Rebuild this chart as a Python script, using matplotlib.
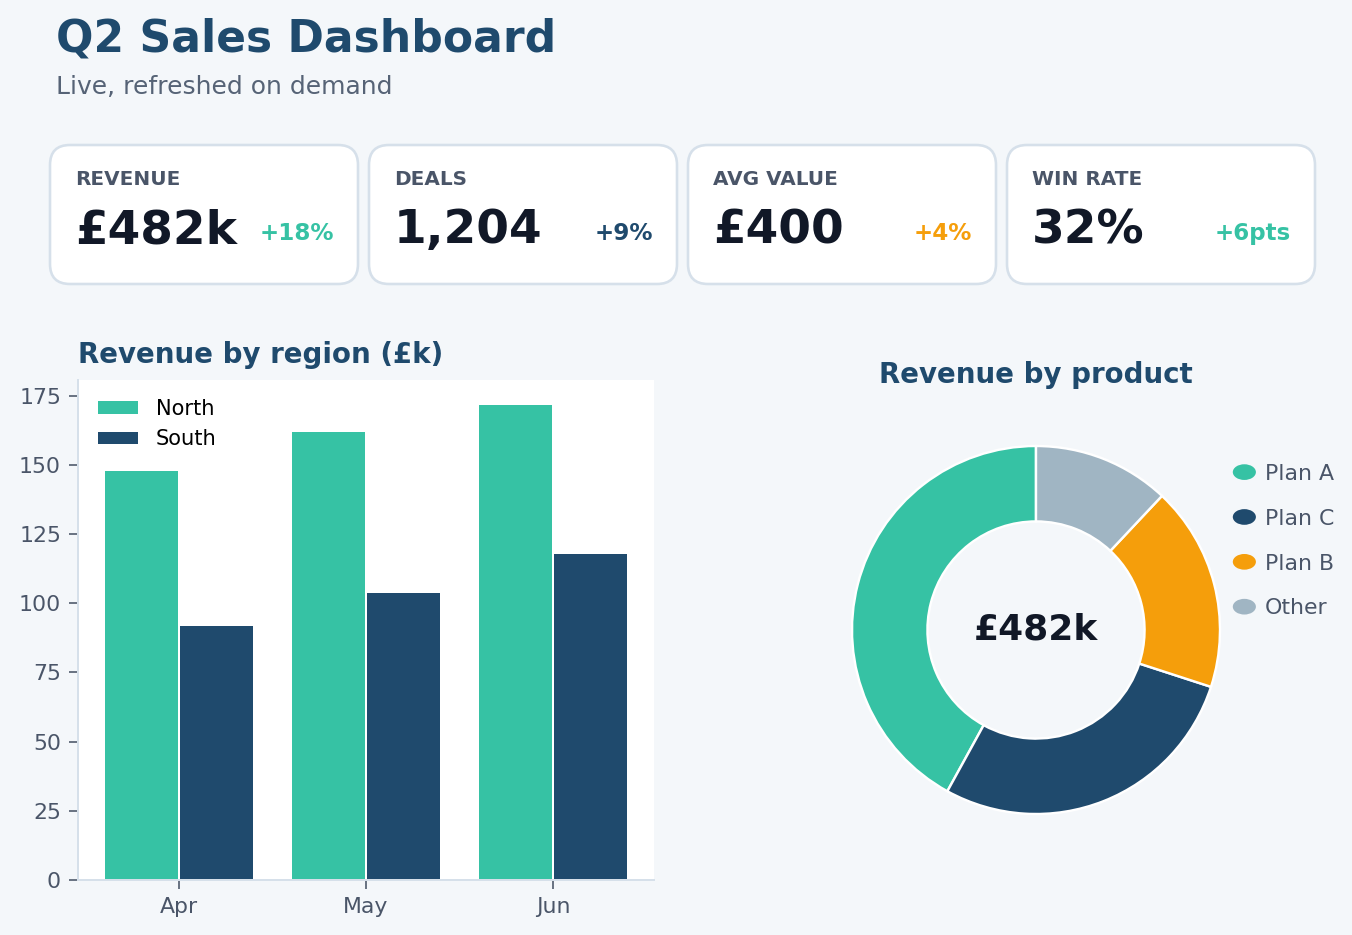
import matplotlib
matplotlib.use("Agg")
import matplotlib.pyplot as plt
import matplotlib.patches as mpatches
from matplotlib.patches import FancyBboxPatch, Ellipse
from matplotlib.legend_handler import HandlerPatch
import numpy as np

# ---------------- data ----------------
title = "Q2 Sales Dashboard"
subtitle = "Live, refreshed on demand"

kpi_labels = ["REVENUE", "DEALS", "AVG VALUE", "WIN RATE"]
kpi_values = ["£482k", "1,204", "£400", "32%"]
kpi_deltas = ["+18%", "+9%", "+4%", "+6pts"]

months = ["Apr", "May", "Jun"]
north = [148, 162, 172]
south = [92, 104, 118]

products = ["Plan A", "Plan C", "Plan B", "Other"]
product_share = [42, 28, 18, 12]
donut_center_label = "£482k"

# ---------------- style ----------------
BG = "#f4f7fa"
TEAL = "#36c2a4"
NAVY = "#1f4a6d"
ORANGE = "#f59e0b"
SLATE = "#a0b5c3"
DARK = "#111827"
GREY = "#4a5568"
SUB = "#566376"
BORDER = "#d6e0ea"
delta_colors = [TEAL, NAVY, ORANGE, TEAL]
product_colors = [TEAL, NAVY, ORANGE, SLATE]

W, H = 1352, 935
DPI = 144
fig = plt.figure(figsize=(W / DPI, H / DPI), dpi=DPI, facecolor=BG)

# background canvas in pixel coordinates (y downward)
bg = fig.add_axes([0, 0, 1, 1], zorder=0)
bg.set_xlim(0, W)
bg.set_ylim(H, 0)
bg.axis("off")

bg.text(56, 52, title, fontsize=22, fontweight="bold", color=NAVY, va="baseline", ha="left")
bg.text(56, 94, subtitle, fontsize=12.5, color=SUB, va="baseline", ha="left")

# KPI cards
card_x = [50, 369, 688, 1007]
card_w, card_top, card_h = 308, 145, 139
for i in range(4):
    x0 = card_x[i]
    card = FancyBboxPatch((x0, card_top), card_w, card_h,
                          boxstyle="round,pad=0,rounding_size=20",
                          facecolor="white", edgecolor=BORDER, linewidth=1.3)
    bg.add_patch(card)
    bg.text(x0 + 25, 185, kpi_labels[i], fontsize=10, fontweight="bold", color=GREY,
            ha="left", va="baseline")
    bg.text(x0 + 25, 243, kpi_values[i], fontsize=23.5, fontweight="bold", color=DARK,
            ha="left", va="baseline")
    bg.text(x0 + card_w - 24, 240, kpi_deltas[i], fontsize=11.5, fontweight="bold",
            color=delta_colors[i], ha="right", va="baseline")

# ---------------- bar chart ----------------
ax = fig.add_axes([78 / W, 1 - 880 / H, 576 / W, 500 / H], zorder=2)
ax.set_facecolor("white")
x = np.arange(len(months))
bw = 0.4
ax.bar(x - bw / 2, north, bw, color=TEAL, edgecolor="white", linewidth=1.0, label="North")
ax.bar(x + bw / 2, south, bw, color=NAVY, edgecolor="white", linewidth=1.0, label="South")
ax.set_xticks(x)
ax.set_xticklabels(months)
ax.set_yticks(np.arange(0, 176, 25))
ax.set_ylim(0, max(north) * 1.05)
for s in ["top", "right"]:
    ax.spines[s].set_visible(False)
for s in ["left", "bottom"]:
    ax.spines[s].set_color(BORDER)
    ax.spines[s].set_linewidth(1.0)
ax.tick_params(colors=GREY, labelsize=11, length=4.5, pad=4)
ax.set_title("Revenue by region (£k)", loc="left", fontsize=13.8, fontweight="bold",
             color=NAVY, pad=8.5)
ax.legend(loc="upper left", frameon=False, fontsize=10.5)

# ---------------- donut ----------------
pax = fig.add_axes([806 / W, 1 - 860 / H, 460 / W, 460 / H], zorder=2)
wedges, _ = pax.pie(product_share, colors=product_colors, startangle=90, counterclock=True,
                    wedgeprops=dict(width=0.41, edgecolor="white", linewidth=1.2))
pax.set_title("Revenue by product", fontsize=13.8, fontweight="bold", color=NAVY, pad=8.5)
pax.text(0, 0, donut_center_label, fontsize=18, fontweight="bold", color=DARK,
         ha="center", va="center")


class HandlerEllipse(HandlerPatch):
    def create_artists(self, legend, orig_handle, xdescent, ydescent, width, height,
                       fontsize, trans):
        center = (width / 2 - xdescent, height / 2 - ydescent)
        p = Ellipse(xy=center, width=width, height=height)
        self.update_prop(p, orig_handle, legend)
        p.set_transform(trans)
        return [p]


handles = [mpatches.Patch(facecolor=c, edgecolor="none", label=l)
           for c, l in zip(product_colors, products)]
leg = fig.legend(handles=handles, loc="upper left",
                 bbox_to_anchor=(1224 / W, 1 - 455 / H), frameon=False, fontsize=11,
                 handlelength=1.05, handleheight=0.72, handletextpad=0.42,
                 labelspacing=1.13, borderaxespad=0,
                 handler_map={mpatches.Patch: HandlerEllipse()})
for t in leg.get_texts():
    t.set_color(GREY)

fig.savefig("out.png", dpi=DPI, facecolor=BG)
